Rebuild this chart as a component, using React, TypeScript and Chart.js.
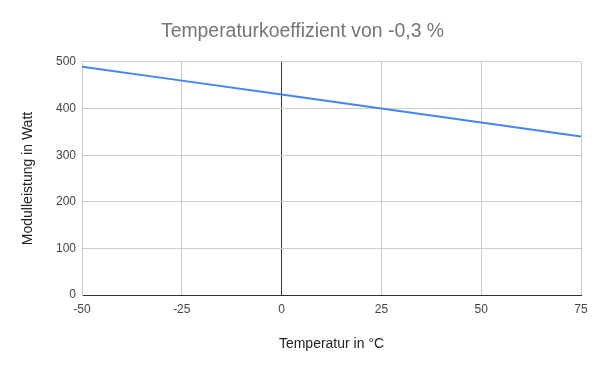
import React, { useEffect, useRef } from "react";
import { Chart, registerables } from "chart.js";

Chart.register(...registerables);

const temperatures = [-50, -25, 0, 25, 50, 75];
const power = [490, 460, 430, 400, 370, 340];
const xTicks = [-50, -25, 0, 25, 50, 75];
const yTicks = [0, 100, 200, 300, 400, 500];

const FONT = "'Liberation Sans', Arial, sans-serif";

export default function App() {
  const ref = useRef<HTMLCanvasElement | null>(null);

  useEffect(() => {
    document.body.style.margin = "0";
    if (!ref.current) return;
    const chart = new Chart(ref.current, {
      type: "line",
      data: {
        datasets: [
          {
            label: "Modulleistung",
            data: temperatures.map((t, i) => ({ x: t, y: power[i] })),
            borderColor: "#4285F4",
            backgroundColor: "#4285F4",
            borderWidth: 2,
            pointRadius: 0,
            tension: 0,
          },
        ],
      },
      options: {
        responsive: false,
        animation: false,
        layout: { padding: { top: 0, right: 19, bottom: 0, left: 24 } },
        plugins: {
          legend: { display: false },
          tooltip: { enabled: false },
          title: {
            display: true,
            text: "Temperaturkoeffizient von -0,3 %",
            color: "#757575",
            font: { family: FONT, size: 19.4, weight: "normal" },
            padding: { top: 20.4, bottom: 18.3 },
          },
        },
        scales: {
          x: {
            type: "linear",
            min: xTicks[0],
            max: xTicks[xTicks.length - 1],
            afterBuildTicks: (s: any) => {
              s.ticks = xTicks.map((v) => ({ value: v }));
            },
            afterFit: (s: any) => {
              s.height = 76;
            },
            ticks: {
              color: "#444",
              font: { family: FONT, size: 12 },
              padding: 7,
              maxRotation: 0,
            },
            grid: {
              drawTicks: false,
              color: (c: any) => (c.tick && c.tick.value === 0 ? "#333" : "#ccc"),
              lineWidth: 1,
            },
            border: { color: "#333", width: 1 },
            title: {
              display: true,
              text: "Temperatur in °C",
              color: "#222",
              font: { family: FONT, size: 14 },
              padding: { top: 0, bottom: 18.6 },
            },
          },
          y: {
            min: yTicks[0],
            max: yTicks[yTicks.length - 1],
            afterBuildTicks: (s: any) => {
              s.ticks = yTicks.map((v) => ({ value: v }));
            },
            afterFit: (s: any) => {
              s.width = 58;
            },
            ticks: {
              color: "#444",
              font: { family: FONT, size: 12 },
              padding: 6,
            },
            grid: { drawTicks: false, color: "#ccc", lineWidth: 1 },
            border: { color: "#ccc", width: 1 },
            title: {
              display: true,
              text: "Modulleistung in Watt",
              color: "#222",
              font: { family: FONT, size: 14 },
              padding: { top: -4.4, bottom: 0 },
            },
          },
        },
      },
    });
    return () => chart.destroy();
  }, []);

  return (
    <div style={{ width: 600, height: 371, background: "#fff" }}>
      <canvas ref={ref} width={600} height={371} />
    </div>
  );
}
